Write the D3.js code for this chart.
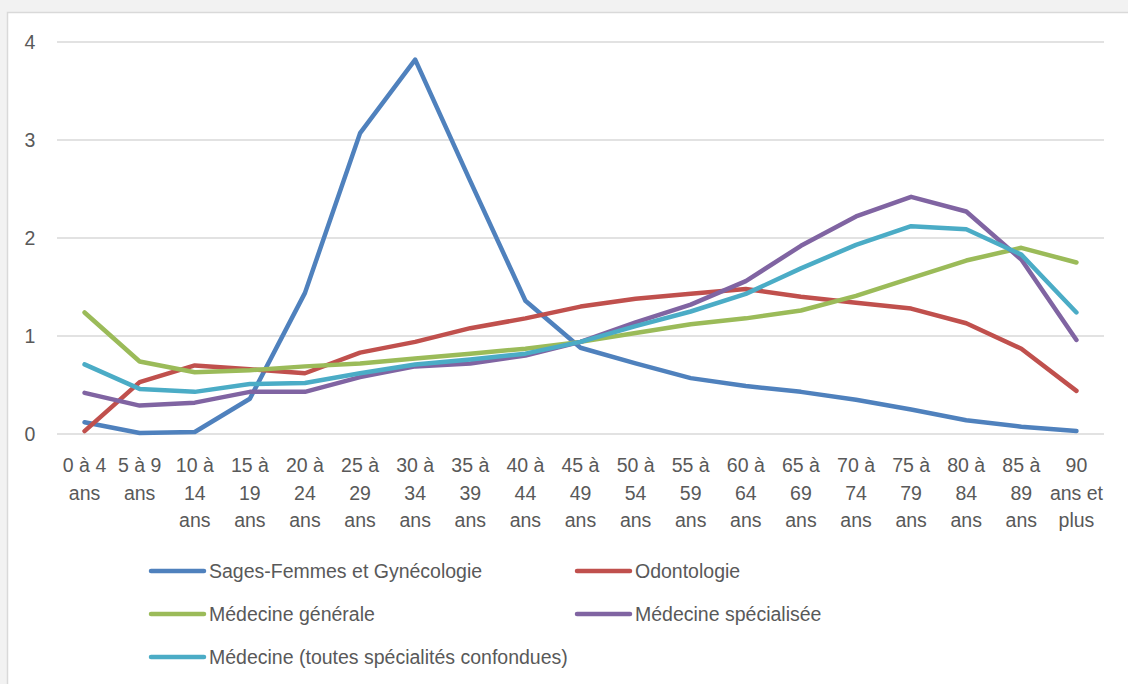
<!DOCTYPE html>
<html>
<head>
<meta charset="utf-8">
<script src="https://cdn.jsdelivr.net/npm/d3@7"></script>
<style>
  html, body { margin: 0; padding: 0; background: #f2f2f2; }
  svg { display: block; }
  text { font-family: "Liberation Sans", Arial, sans-serif; fill: #595959; }
</style>
</head>
<body>
<svg id="chart" width="1128" height="684"></svg>
<script>
// ---- data ----
const categories = ["0 à 4 ans","5 à 9 ans","10 à 14 ans","15 à 19 ans","20 à 24 ans","25 à 29 ans",
  "30 à 34 ans","35 à 39 ans","40 à 44 ans","45 à 49 ans","50 à 54 ans","55 à 59 ans","60 à 64 ans",
  "65 à 69 ans","70 à 74 ans","75 à 79 ans","80 à 84 ans","85 à 89 ans","90 ans et plus"];
const seriesNames = ["Sages-Femmes et Gynécologie","Odontologie","Médecine générale",
  "Médecine spécialisée","Médecine (toutes spécialités confondues)"];
const sagesFemmes = [0.12,0.01,0.02,0.36,1.44,3.07,3.82,2.58,1.36,0.88,0.72,0.57,0.49,0.43,0.35,0.25,0.14,0.075,0.03];
const odontologie = [0.03,0.53,0.70,0.66,0.62,0.83,0.94,1.08,1.18,1.30,1.38,1.43,1.48,1.40,1.34,1.28,1.13,0.87,0.44];
const medGenerale = [1.24,0.74,0.63,0.65,0.69,0.72,0.77,0.82,0.87,0.94,1.03,1.12,1.18,1.26,1.41,1.59,1.77,1.90,1.75];
const medSpecialisee = [0.42,0.29,0.32,0.43,0.43,0.58,0.69,0.72,0.80,0.94,1.14,1.32,1.56,1.92,2.22,2.42,2.27,1.78,0.96];
const medToutes = [0.71,0.46,0.43,0.51,0.52,0.62,0.71,0.76,0.82,0.94,1.10,1.25,1.43,1.69,1.93,2.12,2.09,1.83,1.24];
const yTicks = [0,1,2,3,4];

const seriesValues = [sagesFemmes, odontologie, medGenerale, medSpecialisee, medToutes];
const colors = ["#4f81bd","#c0504d","#9bbb59","#8064a2","#4bacc6"];

// ---- layout ----
const W = 1128, H = 684;
const plot = { left: 57, right: 1104, top: 42, bottom: 434 };
const fontSize = 19.5;

const svg = d3.select("#chart");

// panel
svg.append("rect").attr("x", 7.5).attr("y", 12.5).attr("width", W + 10).attr("height", H + 10)
  .attr("fill", "#ffffff").attr("stroke", "#d9d9d9").attr("stroke-width", 1.5);

const x = d3.scaleBand().domain(categories).range([plot.left, plot.right]).padding(0);
const y = d3.scaleLinear().domain([0, 4]).range([plot.bottom, plot.top]);

// gridlines
svg.append("g").selectAll("line").data(yTicks).join("line")
  .attr("x1", plot.left).attr("x2", plot.right)
  .attr("y1", d => y(d)).attr("y2", d => y(d))
  .attr("stroke", "#d9d9d9").attr("stroke-width", 1.5);

// y labels
svg.append("g").selectAll("text").data(yTicks).join("text")
  .attr("x", 30).attr("y", d => y(d)).attr("text-anchor", "middle")
  .attr("dominant-baseline", "central").attr("font-size", fontSize)
  .text(d => d);

// x labels with wrapping
const xLab = svg.append("g");
const maxW = 56;
categories.forEach(c => {
  const cx = x(c) + x.bandwidth() / 2;
  const t = xLab.append("text").attr("x", cx).attr("y", 472)
    .attr("text-anchor", "middle").attr("font-size", fontSize);
  const words = c.split(" ");
  const lines = [];
  let cur = [];
  const probe = t.append("tspan");
  words.forEach(w => {
    const test = cur.concat([w]).join(" ");
    probe.text(test);
    if (cur.length && probe.node().getComputedTextLength() > maxW) {
      lines.push(cur.join(" "));
      cur = [w];
    } else {
      cur.push(w);
    }
  });
  if (cur.length) lines.push(cur.join(" "));
  probe.remove();
  lines.forEach((l, i) => {
    t.append("tspan").attr("x", cx).attr("y", 472 + i * 27.5).text(l);
  });
});

// lines
const line = d3.line()
  .x((d, i) => x(categories[i]) + x.bandwidth() / 2)
  .y(d => y(d));

svg.append("g").selectAll("path").data(seriesValues).join("path")
  .attr("d", d => line(d))
  .attr("fill", "none")
  .attr("stroke", (d, i) => colors[i])
  .attr("stroke-width", 4.5)
  .attr("stroke-linejoin", "round")
  .attr("stroke-linecap", "round");

// legend
const legCols = [151, 577];
const legRows = [571, 614, 657];
const leg = svg.append("g");
seriesNames.forEach((n, i) => {
  const lx = legCols[i % 2], ly = legRows[Math.floor(i / 2)];
  leg.append("line").attr("x1", lx).attr("x2", lx + 53).attr("y1", ly).attr("y2", ly)
    .attr("stroke", colors[i]).attr("stroke-width", 4.5).attr("stroke-linecap", "round");
  leg.append("text").attr("x", lx + 58).attr("y", ly).attr("dominant-baseline", "central")
    .attr("font-size", fontSize).text(n);
});
</script>
</body>
</html>
